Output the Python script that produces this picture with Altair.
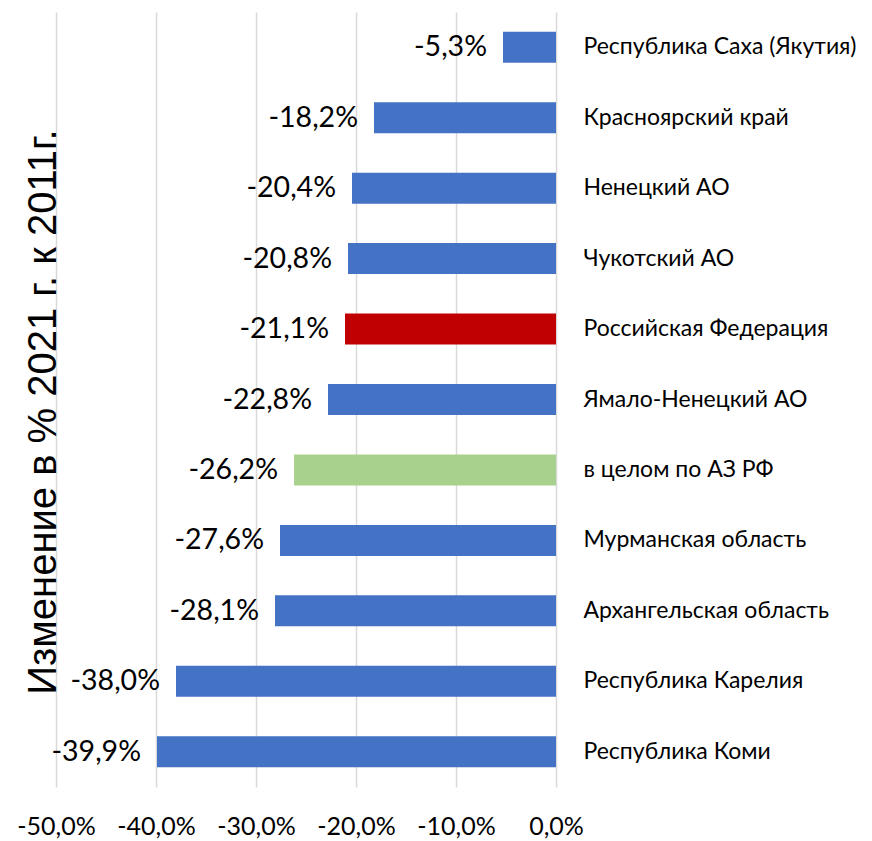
import altair as alt
import pandas as pd

categories = [
    "Республика Саха (Якутия)",
    "Красноярский край",
    "Ненецкий АО",
    "Чукотский АО",
    "Российская Федерация",
    "Ямало-Ненецкий АО",
    "в целом по АЗ РФ",
    "Мурманская область",
    "Архангельская область",
    "Республика Карелия",
    "Республика Коми",
]
values = [-5.3, -18.2, -20.4, -20.8, -21.1, -22.8, -26.2, -27.6, -28.1, -38.0, -39.9]
groups = ["region", "region", "region", "region", "rf", "region", "az",
          "region", "region", "region", "region"]
tick_values = [-50, -40, -30, -20, -10, 0]
axis_title = "Изменение в % 2021 г. к 2011г."

df = pd.DataFrame({"category": categories, "value": values, "group": groups})

fmt = "replace(replace(format({v}, '.1f'), '.', ','), '\u2212', '-') + '%'"

base = alt.Chart(df)

bars = base.mark_bar().encode(
    x=alt.X("value:Q",
            scale=alt.Scale(domain=[-50, 0], nice=False),
            axis=alt.Axis(values=tick_values, grid=True, gridColor="#D9D9D9",
                          gridWidth=1.5, domain=False, ticks=False,
                          labelFontSize=25, labelFont="Lato", labelColor="black",
                          labelPadding=27, title=None, labelOverlap=False,
                          labelBound=False, labelFlush=False,
                          labelExpr=fmt.format(v="datum.value"))),
    y=alt.Y("category:N", sort=categories,
            scale=alt.Scale(paddingInner=0.56, paddingOuter=0.28),
            axis=alt.Axis(orient="right", ticks=False, domain=False, grid=False,
                          labelFontSize=23, labelFont="Lato", labelColor="black",
                          labelPadding=27, labelAlign="left", title=None,
                          labelLimit=400)),
    color=alt.Color("group:N",
                    scale=alt.Scale(domain=["region", "rf", "az"],
                                    range=["#4472C4", "#C00000", "#A9D18E"]),
                    legend=None),
)

labels = base.transform_calculate(
    label=fmt.format(v="datum.value")
).mark_text(align="right", baseline="middle", dx=-16, fontSize=28.5,
            font="Lato", color="black").encode(
    x="value:Q",
    y=alt.Y("category:N", sort=categories),
    text="label:N",
)

title_layer = alt.Chart(pd.DataFrame({"t": [axis_title]})).mark_text(
    angle=270, align="center", baseline="middle", fontSize=40,
    font="Liberation Sans", color="black"
).encode(
    x=alt.value(-12),
    y=alt.value(400),
    text="t:N",
)

chart = alt.layer(bars, labels, title_layer).properties(
    width=500, height=775,
    autosize=alt.AutoSizeParams(type="none"),
    padding={"left": 48, "top": 4, "right": 306, "bottom": 52},
).configure_view(stroke=None)

chart.save("out.html", embed_options={"renderer": "svg", "actions": False})
